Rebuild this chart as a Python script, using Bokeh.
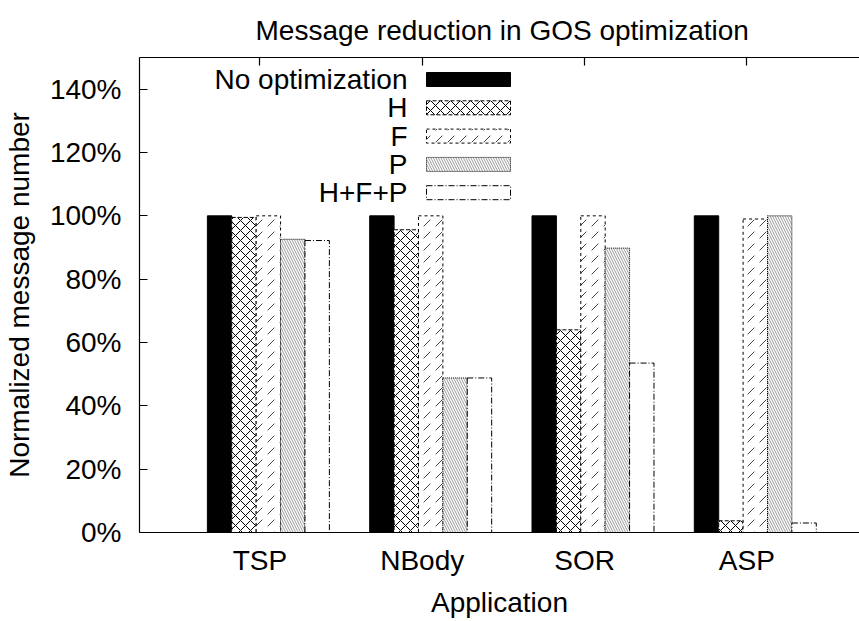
from bokeh.plotting import figure
from bokeh.models import (FixedTicker, LinearAxis, Range1d, PrintfTickFormatter,
                          Label, ColumnDataSource)
from bokeh.embed import file_html
from bokeh.resources import INLINE

# ---------------- data ----------------
applications = ["TSP", "NBody", "SOR", "ASP"]
series_names = ["No optimization", "H", "F", "P", "H+F+P"]
no_opt = [100, 100, 100, 100]
h_vals = [99.5, 95.6, 64.0, 3.7]
f_vals = [100, 100, 100, 99.0]
p_vals = [92.6, 48.8, 89.8, 100]
hfp_vals = [92.2, 48.8, 53.5, 3.0]
y_ticks = [0, 20, 40, 60, 80, 100, 120, 140]
y_max = 150

series_values = [no_opt, h_vals, f_vals, p_vals, hfp_vals]

# ---------------- layout constants ----------------
W, H = 859, 621
FRAME_L, FRAME_R, FRAME_T, FRAME_B = 139, 859, 57, 532
X0, X1 = -0.742, 3.694
BAR_W = 0.1503
CLUSTER_SHIFT = 0.052
FONT = "Liberation Sans"
FS = "28px"

styles = [
    dict(fill_color="black", line_color="black"),
    dict(fill_color="white", line_color="black", line_dash="4 2",
         hatch_pattern="diagonal_cross", hatch_scale=10, hatch_weight=1, hatch_color="black"),
    dict(fill_color="white", line_color="black", line_dash="3 3",
         hatch_pattern="right_diagonal_dash", hatch_scale=12, hatch_weight=1, hatch_color="#444444"),
    dict(fill_color="white", line_color="black", line_dash="1 1",
         hatch_pattern="left_diagonal_line", hatch_scale=5, hatch_weight=1, hatch_color="#999999"),
    dict(fill_color="white", line_color="black", line_dash="6 2 1 2"),
]

p = figure(width=W, height=H, x_range=Range1d(X0, X1), y_range=Range1d(0, y_max),
           x_axis_type=None, y_axis_type=None, output_backend="svg",
           toolbar_location=None,
           min_border_left=FRAME_L, min_border_right=W - FRAME_R,
           min_border_top=FRAME_T, min_border_bottom=H - FRAME_B)
p.outline_line_color = None
p.background_fill_color = "white"
p.border_fill_color = "white"

# title
p.title.text = "Message reduction in GOS optimization"
p.title.text_font = FONT
p.title.text_font_size = FS
p.title.text_font_style = "normal"
p.title.text_color = "black"
p.title.align = "left"
p.title.offset = 116
p.title.standoff = 24

# bars
n = len(series_names)
for i, (name, vals, st) in enumerate(zip(series_names, series_values, styles)):
    xs = [j + CLUSTER_SHIFT + (i - (n - 1) / 2) * BAR_W for j in range(len(applications))]
    src = ColumnDataSource(dict(x=xs, top=vals))
    p.vbar(x="x", top="top", width=BAR_W, bottom=0, source=src, line_width=1, **st)

# legend (label on the left, sample on the right)
def px_to_x(px):
    return X0 + (px - FRAME_L) / (FRAME_R - FRAME_L) * (X1 - X0)

def py_to_y(py):
    return (FRAME_B - py) / (FRAME_B - FRAME_T) * y_max

LEG_TEXT_R = 407
LEG_BOX_L, LEG_BOX_R = 426, 510
LEG_ROW0, LEG_DY, LEG_BOX_H = 79, 28.3, 14
for i, (name, st) in enumerate(zip(series_names, styles)):
    cy = LEG_ROW0 + i * LEG_DY
    p.quad(left=[px_to_x(LEG_BOX_L)], right=[px_to_x(LEG_BOX_R)],
           top=[py_to_y(cy - LEG_BOX_H / 2)], bottom=[py_to_y(cy + LEG_BOX_H / 2)],
           line_width=1, **st)
    p.add_layout(Label(x=px_to_x(LEG_TEXT_R), y=py_to_y(cy), text=name,
                       text_align="right", text_baseline="middle",
                       text_font=FONT, text_font_size=FS, text_color="black"))

# axes
left = LinearAxis(ticker=FixedTicker(ticks=y_ticks),
                  formatter=PrintfTickFormatter(format="%d%%"),
                  axis_label="Normalized message number")
left.major_tick_in = 8
left.major_tick_out = 0
left.minor_tick_in = 0
left.minor_tick_out = 0
left.major_label_standoff = 18
left.axis_label_standoff = 12
p.add_layout(left, "left")

bottom = LinearAxis(ticker=FixedTicker(ticks=list(range(len(applications)))),
                    axis_label="Application")
bottom.major_label_overrides = {j: a for j, a in enumerate(applications)}
bottom.major_tick_in = 0
bottom.major_tick_out = 0
bottom.minor_tick_in = 0
bottom.minor_tick_out = 0
bottom.major_label_standoff = 12
bottom.axis_label_standoff = 8
p.add_layout(bottom, "below")

top = LinearAxis(ticker=FixedTicker(ticks=list(range(len(applications)))))
top.major_label_overrides = {j: "" for j in range(len(applications))}
top.major_tick_in = 8
top.major_tick_out = 0
top.minor_tick_in = 0
top.minor_tick_out = 0
top.major_label_standoff = 0
p.add_layout(top, "above")

for ax in (left, bottom, top):
    ax.axis_line_color = "black"
    ax.axis_line_width = 1.2
    ax.major_tick_line_color = "black"
    ax.major_tick_line_width = 1.2
    ax.major_label_text_font = FONT
    ax.major_label_text_font_size = FS
    ax.major_label_text_color = "black"
    ax.axis_label_text_font = FONT
    ax.axis_label_text_font_size = FS
    ax.axis_label_text_font_style = "normal"
    ax.axis_label_text_color = "black"

top.major_label_text_font_size = "6px"

open("out.html", "w").write(file_html(p, INLINE))
